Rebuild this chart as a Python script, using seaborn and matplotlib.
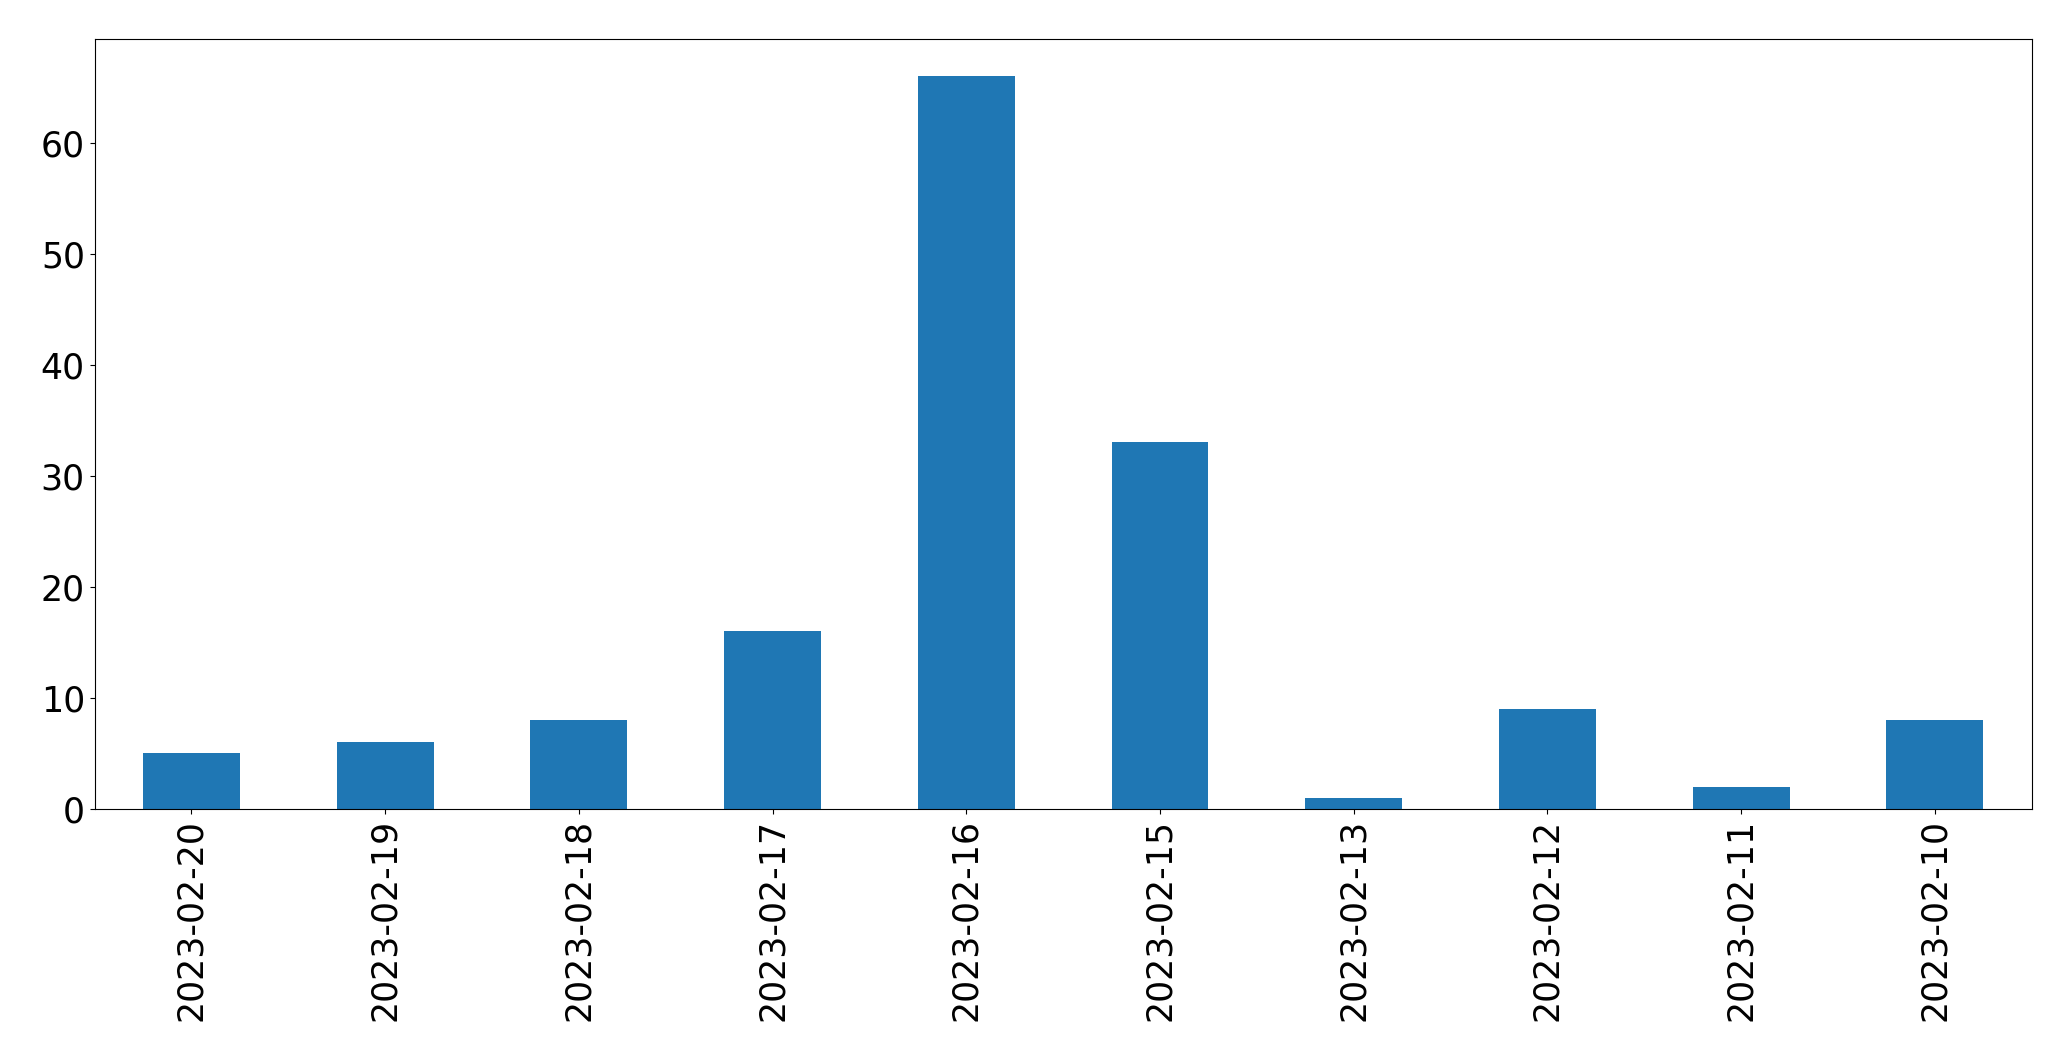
import pandas as pd
import numpy as np
import matplotlib
matplotlib.use("Agg")
import matplotlib.pyplot as plt
import seaborn as sns

# dates as they appear (newest first) and the counts per day
dates = ["2023-02-20", "2023-02-19", "2023-02-18", "2023-02-17", "2023-02-16",
         "2023-02-15", "2023-02-13", "2023-02-12", "2023-02-11", "2023-02-10"]
counts = [5, 6, 8, 16, 66, 33, 1, 9, 2, 8]

data = pd.DataFrame({"date": dates, "count": counts})

fig, ax = plt.subplots(figsize=(20.71, 10.61), dpi=100)
sns.barplot(x="date", y="count", data=data, color="#1f77b4", saturation=1,
            width=0.5, ax=ax)

ax.set_xlabel("")
ax.set_ylabel("")
ax.set_xlim(-0.5, len(dates) - 0.5)
ax.set_ylim(0, max(counts) * 1.05)
ax.tick_params(axis="both", labelsize=25)
plt.setp(ax.get_xticklabels(), rotation=90)

fig.subplots_adjust(left=0.0457, right=0.981, top=0.963, bottom=0.2375)
fig.savefig("out.png", dpi=100)
